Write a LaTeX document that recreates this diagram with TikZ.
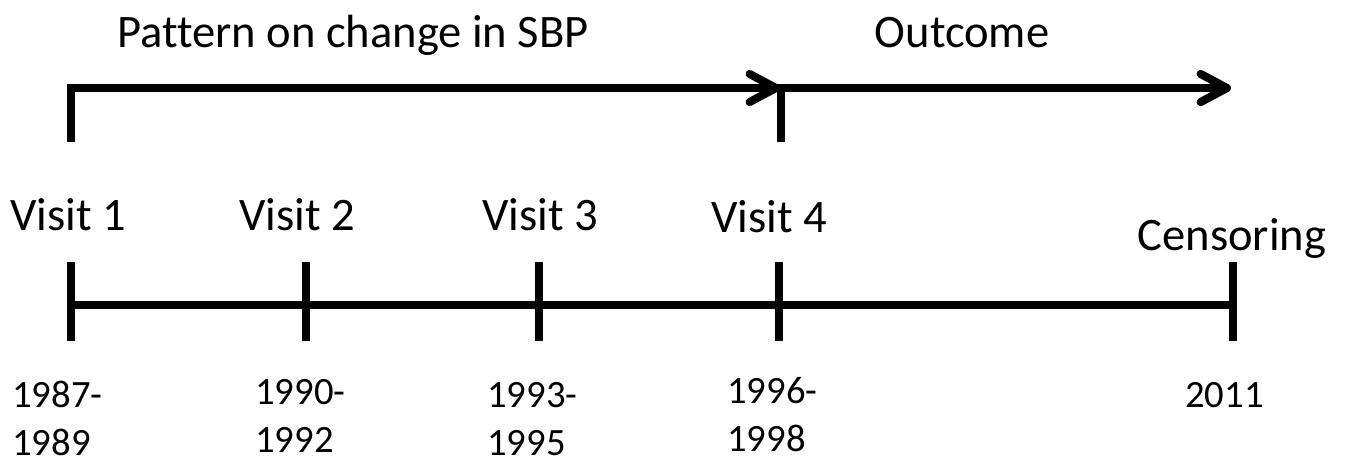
\documentclass[tikz,border=0pt]{standalone}
\usepackage{fontspec}
\setmainfont[Ligatures=NoCommon]{Carlito}
\usetikzlibrary{arrows.meta, calc}

\begin{document}
\begin{tikzpicture}[
    x=0.02cm, y=-0.02cm,
    bar/.style={line width=4.6pt},
    period/.style={bar, -{Straight Barb[length=15pt, width=16pt, round]}},
    label/.style={font=\fontsize{26.5}{32}\selectfont, anchor=base, inner sep=0pt},
    year/.style={font=\fontsize{22}{27}\selectfont, anchor=base west, align=left, inner sep=0pt}
]
    \useasboundingbox (0,0) rectangle (1349,464);

    % Visits on the time line
    \coordinate (v1) at (71,305);
    \coordinate (v2) at (306,305);
    \coordinate (v3) at (539,305);
    \coordinate (v4) at (779,305);
    \coordinate (cens) at (1233,305);

    % Time line and ticks
    \draw[bar] (v1) -- (cens);
    \foreach \t in {v1, v2, v3, v4, cens}
        \draw[bar] ($(\t)+(0,-43)$) -- ($(\t)+(0,36)$);

    % Periods above
    \coordinate (p1) at (71,142);
    \coordinate (p2) at (781,142);
    \coordinate (tip1) at (780,88);
    \coordinate (tip2) at (1231,88);
    \draw[period] (p1) |- (tip1);
    \draw[period] (p2) |- (tip2);

    % Period labels
    \node[label] (pattern) at (353,47) {Pattern on change in SBP};
    \node[label] (outcome) at (962,47) {Outcome};

    % Visit labels
    \node[label] (lv1) at (68,230) {Visit 1};
    \node[label] (lv2) at (297,230) {Visit 2};
    \node[label] (lv3) at (540,230) {Visit 3};
    \node[label] (lv4) at (769,232) {Visit 4};
    \node[label] (lcens) at (1232,250) {Censoring};

    % Years (base = last line)
    \node[year] (y1) at (12,455) {1987-\\1989};
    \node[year] (y2) at (255,452) {1990-\\1992};
    \node[year] (y3) at (487,455) {1993-\\1995};
    \node[year] (y4) at (727,451) {1996-\\1998};
    \node[year] (y5) at (1185,407) {2011};
\end{tikzpicture}
\end{document}
